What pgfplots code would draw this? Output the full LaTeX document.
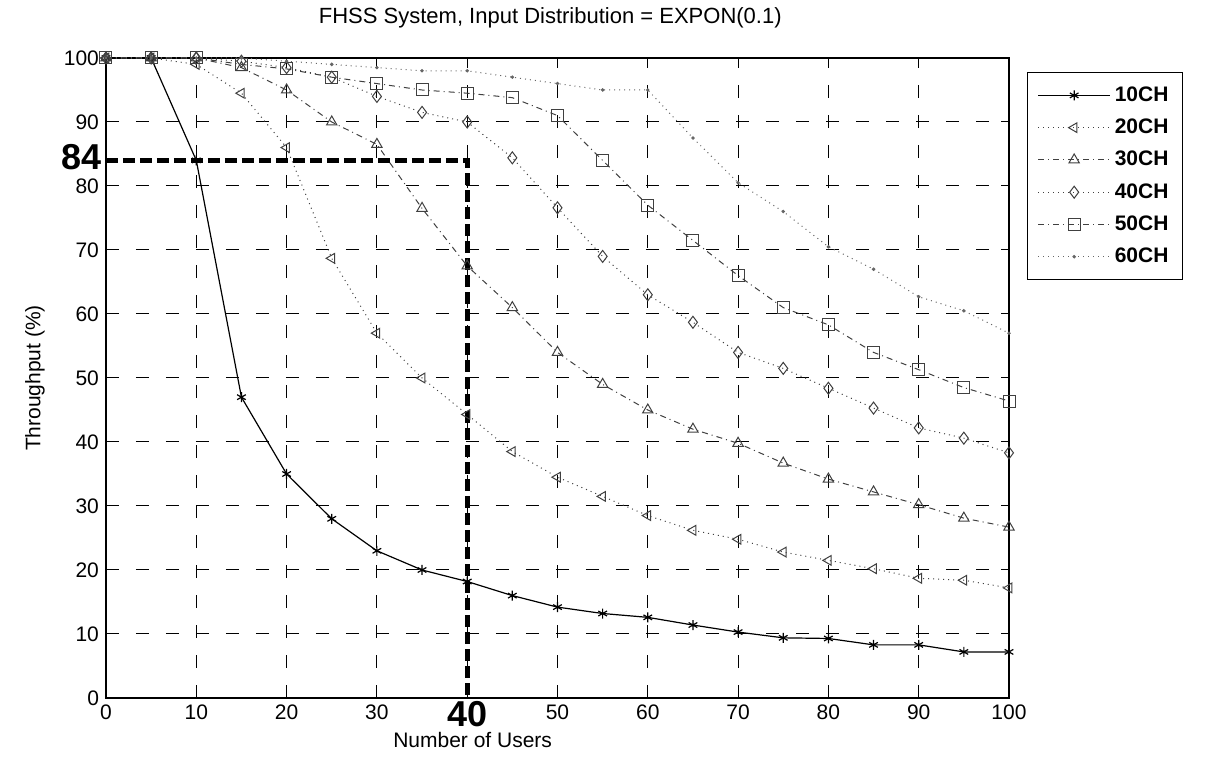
\documentclass[border=0pt]{standalone}
\usepackage{fontspec}
\setmainfont{Liberation Sans}
\usepackage{pgfplots}
\pgfplotsset{compat=1.18}

\pgfplotstableread{
x y
0 100
5 100
10 84
15 47
20 35
25 28
30 23
35 20
40 18.2
45 16
50 14.2
55 13.2
60 12.6
65 11.4
70 10.3
75 9.4
80 9.3
85 8.3
90 8.3
95 7.2
100 7.2
}\chA
\pgfplotstableread{
x y
0 100
5 100
10 99
15 94.5
20 86
25 68.7
30 57
35 50
40 44.3
45 38.5
50 34.5
55 31.5
60 28.5
65 26.2
70 24.8
75 22.8
80 21.5
85 20.2
90 18.7
95 18.4
100 17.2
}\chB
\pgfplotstableread{
x y
0 100
5 100
10 100
15 98.5
20 95
25 90
30 86.5
35 76.5
40 67.5
45 61
50 54
55 49
60 45
65 42
70 39.8
75 36.7
80 34.2
85 32.2
90 30.2
95 28.1
100 26.7
}\chC
\pgfplotstableread{
x y
0 100
5 100
10 100
15 99.5
20 98.5
25 97
30 94
35 91.5
40 90
45 84.4
50 76.6
55 69
60 63
65 58.7
70 54
75 51.5
80 48.4
85 45.3
90 42.2
95 40.6
100 38.3
}\chD
\pgfplotstableread{
x y
0 100
5 100
10 100
15 99
20 98.3
25 97
30 96
35 95
40 94.5
45 93.8
50 91
55 84
60 77
65 71.5
70 66
75 61
80 58.3
85 54
90 51.3
95 48.5
100 46.4
}\chE
\pgfplotstableread{
x y
0 100
5 100
10 100
15 100
20 99.5
25 99
30 98.5
35 98
40 98
45 97
50 96
55 95
60 95
65 87.5
70 80.5
75 76
80 70.5
85 67
90 62.7
95 60.5
100 57
}\chF

\begin{document}
\begin{tikzpicture}
\path[use as bounding box] (-53pt,-31pt) rectangle (550.5pt,349pt);
\begin{axis}[
  at={(0,0)}, anchor=south west, scale only axis,
  width=451.5pt, height=320pt,
  xmin=0, xmax=100, ymin=0, ymax=100,
  clip=false,
  xtick={0,10,...,100},
  xticklabels={0,10,20,30,,50,60,70,80,90,100},
  ytick={0,10,...,100},
  tick align=inside,
  major tick length=4pt,
  grid=major,
  major grid style={black, line width=0.5pt, dash pattern=on 6.5pt off 8.5pt},
  axis line style={black, line width=0.6pt},
  tick style={black, line width=0.5pt},
  ticklabel style={font=\fontsize{10.5}{12}\selectfont},
  /pgf/number format/assume math mode=true,
  title={FHSS System, Input Distribution = EXPON(0.1)},
  title style={at={(axis description cs:0.492,1.044)}, anchor=center, font=\fontsize{11}{13}\selectfont},
  xlabel={Number of Users},
  xlabel style={at={(axis description cs:0.406,-0.066)}, anchor=center, font=\fontsize{10.5}{12}\selectfont},
  ylabel={Throughput (\%)},
  ylabel style={at={(axis description cs:-0.0786,0.5)}, anchor=center, rotate=0, font=\fontsize{10.5}{12}\selectfont},
  legend style={at={(1.02,0.978)}, anchor=north west, draw=black, line width=0.5pt,
    inner sep=5pt, row sep=3.3pt, font=\fontsize{10.5}{12}\selectfont\bfseries},
  legend cell align=left,
  legend image code/.code={\draw[mark repeat=2,mark phase=2] plot coordinates {(0pt,0pt) (18pt,0pt) (36pt,0pt)};},
]
\addplot[black, line width=0.6pt, mark=asterisk, mark size=2.5pt, mark options={solid}] table {\chA};
\addlegendentry{10CH}
\addplot[black!75, line width=0.5pt, dotted, mark=triangle, mark size=2.8pt, mark options={solid, rotate=90}] table {\chB};
\addlegendentry{20CH}
\addplot[black!75, line width=0.5pt, dash dot, mark=triangle, mark size=3pt, mark options={solid}] table {\chC};
\addlegendentry{30CH}
\addplot[black!75, line width=0.5pt, dotted, mark=diamond, mark size=3pt, mark options={solid}] table {\chD};
\addlegendentry{40CH}
\addplot[black!75, line width=0.5pt, dash dot, mark=square, mark size=3pt, mark options={solid}] table {\chE};
\addlegendentry{50CH}
\addplot[black!60, line width=0.5pt, dotted, mark=*, mark size=0.6pt, mark options={solid}] table {\chF};
\addlegendentry{60CH}
\addplot[black, line width=2.5pt, dash pattern=on 6pt off 2.5pt, forget plot] coordinates {(0,84) (40,84) (40,0)};
\node[anchor=east, inner sep=0pt, font=\fontsize{18}{20}\selectfont\bfseries] at (axis cs:0,84.5) [xshift=-2pt] {84};
\node[anchor=north, inner sep=0pt, font=\fontsize{18}{20}\selectfont\bfseries] at (axis cs:40,0) [yshift=-1.5pt] {40};
\end{axis}
\end{tikzpicture}
\end{document}
